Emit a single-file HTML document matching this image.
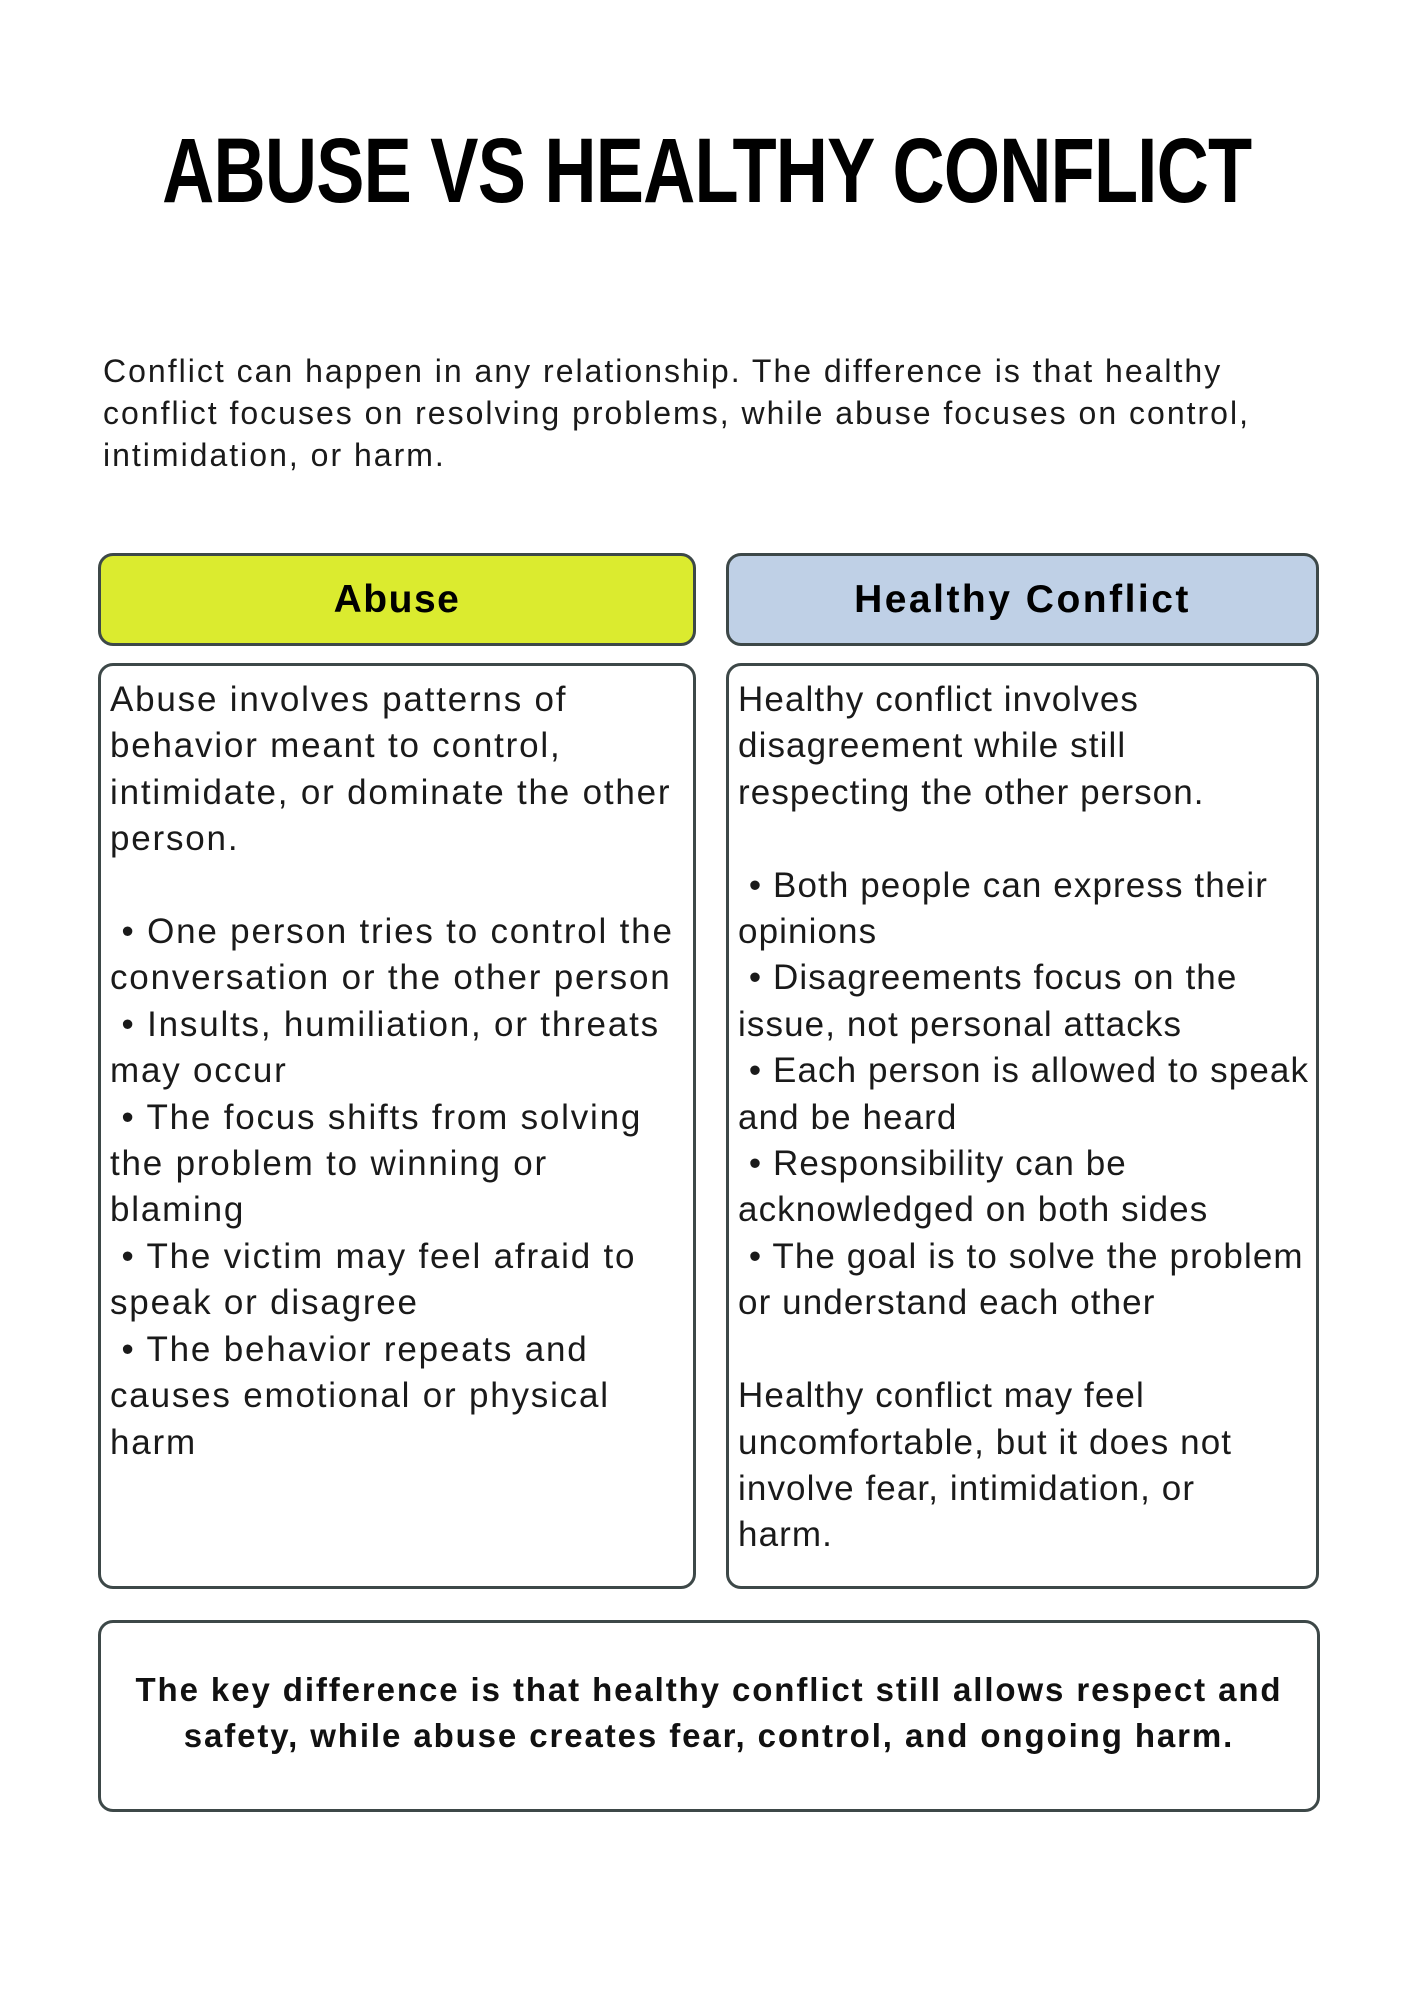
<!DOCTYPE html>
<html><head><meta charset="utf-8"><style>
html,body{margin:0;padding:0;background:#fff;}
body{width:1414px;height:2000px;position:relative;font-family:"Liberation Sans",sans-serif;color:#111;overflow:hidden;}
.title{position:absolute;left:0;width:1414px;top:118px;text-align:center;}
.title span{display:inline-block;font-weight:bold;font-size:92px;line-height:106px;transform:scaleX(0.785);transform-origin:center;letter-spacing:-1px;color:#000;white-space:nowrap;}
.intro{position:absolute;left:103px;top:350px;font-size:32px;line-height:42px;letter-spacing:2.0px;white-space:nowrap;color:#1a1a1a;}
.box{position:absolute;border:3px solid #3d4848;border-radius:15px;box-sizing:border-box;}
.hdr{display:flex;align-items:center;justify-content:center;font-weight:bold;font-size:39px;color:#000;letter-spacing:1.5px;}
.body{padding:11px 0 0 9px;font-size:35px;line-height:46.4px;letter-spacing:1.4px;white-space:nowrap;color:#1a1a1a;}
.foot{display:flex;align-items:center;justify-content:center;text-align:center;font-weight:bold;font-size:33px;line-height:46px;color:#111;letter-spacing:1.9px;padding-bottom:6px;}
</style></head><body>
<div class="title"><span>ABUSE VS HEALTHY CONFLICT</span></div>
<div class="intro">Conflict can happen in any relationship. The difference is that healthy<br>conflict focuses on resolving problems, while abuse focuses on control,<br>intimidation, or harm.</div>

<div class="box hdr" style="left:98px;top:553px;width:598px;height:93px;background:#dbeb2f;">Abuse</div>
<div class="box hdr" style="left:726px;top:553px;width:593px;height:93px;background:#bfd0e6;letter-spacing:2.5px;">Healthy Conflict</div>

<div class="box body" style="left:98px;top:663px;width:598px;height:926px;letter-spacing:1.8px;">Abuse involves patterns of<br>behavior meant to control,<br>intimidate, or dominate the other<br>person.<br><br>&nbsp;• One person tries to control the<br>conversation or the other person<br>&nbsp;• Insults, humiliation, or threats<br>may occur<br>&nbsp;• The focus shifts from solving<br>the problem to winning or<br>blaming<br>&nbsp;• The victim may feel afraid to<br>speak or disagree<br>&nbsp;• The behavior repeats and<br>causes emotional or physical<br>harm</div>

<div class="box body" style="left:726px;top:663px;width:593px;height:926px;letter-spacing:1.1px;">Healthy conflict involves<br>disagreement while still<br>respecting the other person.<br><br>&nbsp;• Both people can express their<br>opinions<br>&nbsp;• Disagreements focus on the<br>issue, not personal attacks<br>&nbsp;• Each person is allowed to speak<br>and be heard<br>&nbsp;• Responsibility can be<br>acknowledged on both sides<br>&nbsp;• The goal is to solve the problem<br>or understand each other<br><br>Healthy conflict may feel<br>uncomfortable, but it does not<br>involve fear, intimidation, or<br>harm.</div>

<div class="box foot" style="left:98px;top:1620px;width:1222px;height:192px;">The key difference is that healthy conflict still allows respect and<br>safety, while abuse creates fear, control, and ongoing harm.</div>
</body></html>
